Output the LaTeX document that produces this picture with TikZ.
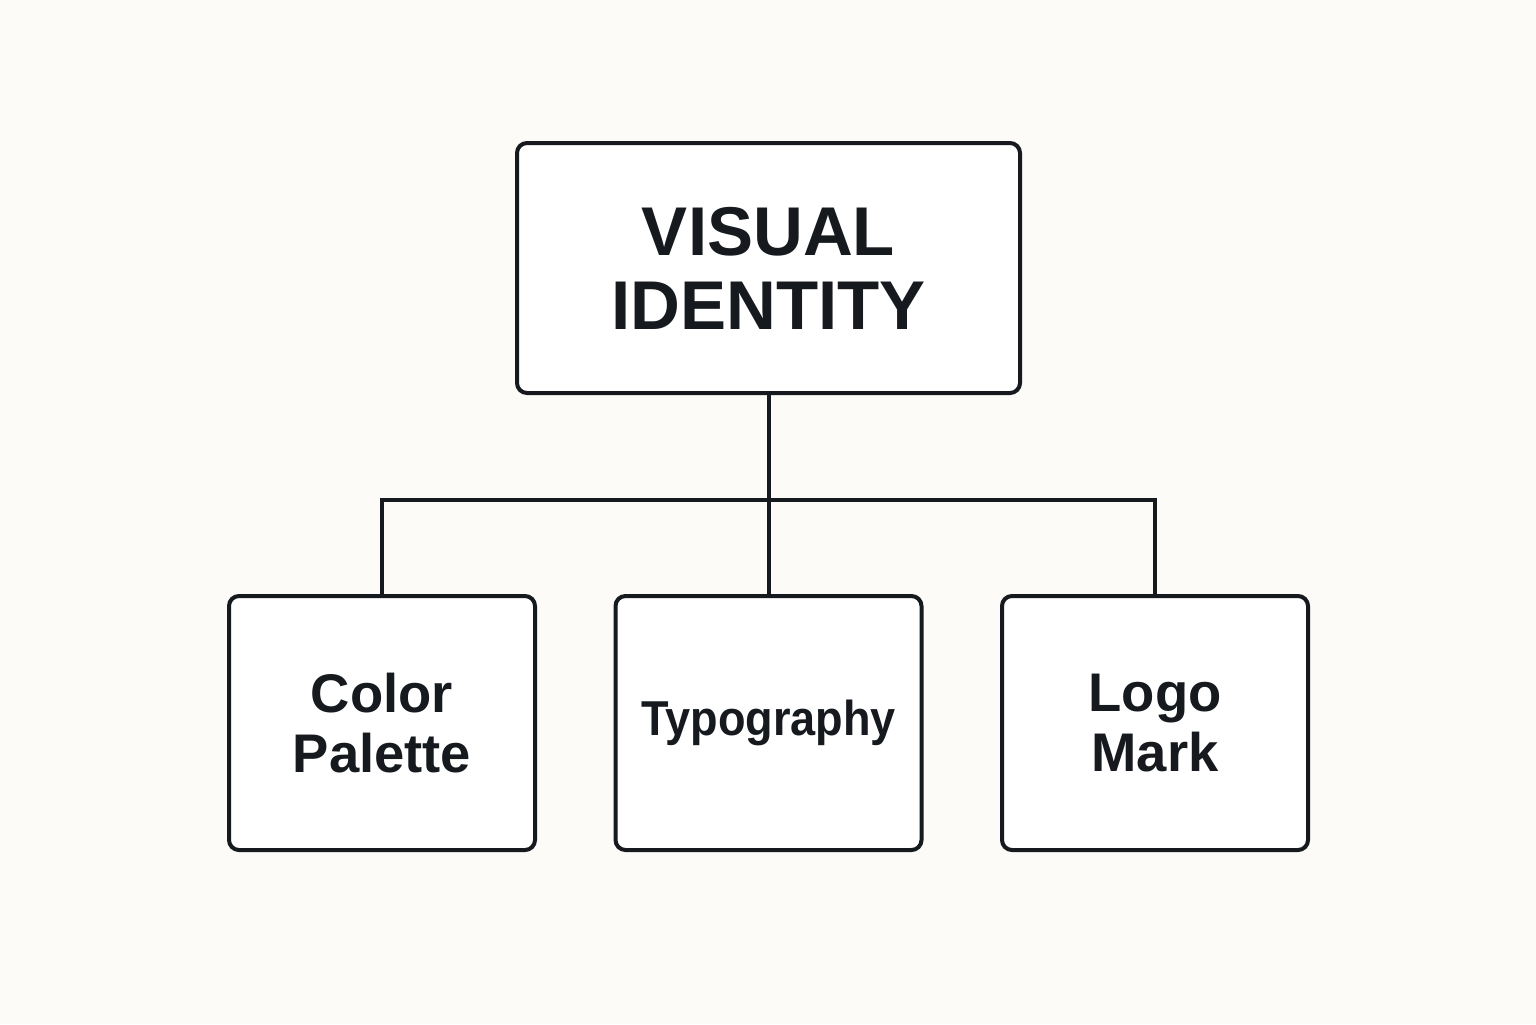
\documentclass[tikz,border=0pt]{standalone}
\usepackage{fontspec}
\setmainfont{Liberation Sans}
\definecolor{bgc}{HTML}{FCFBF7}
\definecolor{ink}{HTML}{16191D}
\begin{document}
\begin{tikzpicture}[x=0.5pt,y=-0.5pt,
  box/.style={draw=ink, line width=2pt, rounded corners=5pt, fill=white, inner sep=0pt, align=center, text=ink},
  topbox/.style={box, minimum width=251.5pt, minimum height=125pt, font=\fontsize{34.5}{37}\selectfont\bfseries},
  leafbox/.style={box, minimum width=153pt, minimum height=127pt, font=\fontsize{27.2}{30}\selectfont\bfseries},
  link/.style={draw=ink, line width=2pt}]
\fill[bgc] (0,0) rectangle (1536,1024);
\useasboundingbox (0,0) rectangle (1536,1024);
\node[topbox] (top) at (768.5,268) {\raisebox{-1.5pt}{\parbox{240pt}{\centering VISUAL\\IDENTITY}}};
\node[leafbox] (color) at (382,723) {Color\\Palette};
\node[leafbox, font=\fontsize{24.5}{28}\selectfont\bfseries] (typo) at (768.5,723) {\scalebox{0.92}[1]{Typography}};
\node[leafbox] (logo) at (1155,723) {Logo\\Mark};
\coordinate (j) at (768.5,500);
\draw[link] (top.south) -- (typo.north);
\draw[link] (color.north) |- (j) -| (logo.north);
\end{tikzpicture}
\end{document}
